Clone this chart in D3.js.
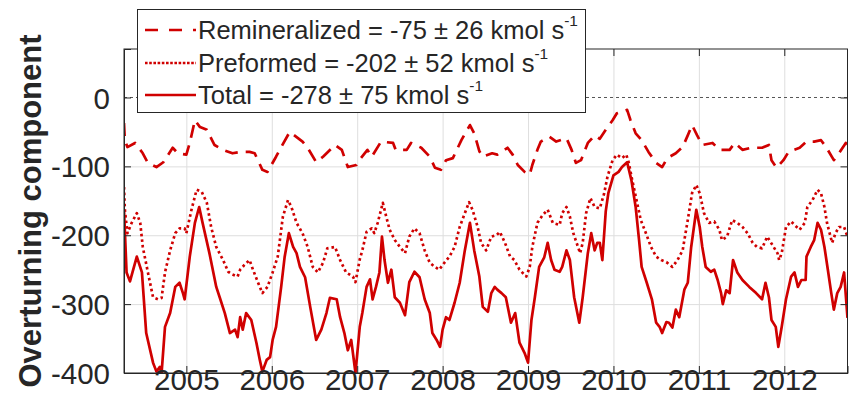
<!DOCTYPE html>
<html>
<head>
<meta charset="utf-8">
<script src="https://cdn.jsdelivr.net/npm/d3@7"></script>
<style>
  html, body { margin: 0; padding: 0; background: #fff; }
  #chart { width: 849px; height: 410px; }
  text { font-family: "Liberation Sans", Arial, Helvetica, sans-serif; fill: #262626; }
</style>
</head>
<body>
<div id="chart"></div>
<script>
// Tick values
const xTicks = [2005, 2006, 2007, 2008, 2009, 2010, 2011, 2012];
const yTicks = [-400, -300, -200, -100, 0];

// Series: [decimal year, kmol s-1]
const remineralized = [
    [2004.27,-37],[2004.28,-62],[2004.31,-72],[2004.40,-66],[2004.49,-81],[2004.55,-95],[2004.65,-101],
    [2004.73,-94],[2004.84,-73],[2004.90,-81],[2005.00,-83],[2005.04,-66],[2005.10,-33],[2005.16,-43],
    [2005.24,-47],[2005.33,-69],[2005.43,-76],[2005.54,-81],[2005.63,-79],[2005.74,-79],[2005.80,-81],
    [2005.89,-105],[2005.95,-108],[2006.05,-86],[2006.11,-72],[2006.21,-50],[2006.36,-64],[2006.42,-73],
    [2006.52,-94],[2006.60,-86],[2006.74,-69],[2006.82,-76],[2006.89,-101],[2006.99,-98],[2007.03,-90],
    [2007.12,-76],[2007.17,-86],[2007.28,-64],[2007.42,-66],[2007.45,-76],[2007.58,-76],[2007.63,-66],
    [2007.75,-73],[2007.85,-86],[2007.91,-102],[2007.98,-105],[2008.04,-91],[2008.12,-88],[2008.22,-62],
    [2008.32,-40],[2008.37,-52],[2008.43,-78],[2008.47,-86],[2008.58,-81],[2008.64,-83],[2008.76,-73],
    [2008.82,-83],[2008.88,-98],[2008.96,-108],[2009.02,-112],[2009.05,-98],[2009.11,-76],[2009.15,-64],
    [2009.25,-57],[2009.33,-64],[2009.45,-59],[2009.51,-76],[2009.56,-95],[2009.62,-91],[2009.70,-66],
    [2009.78,-55],[2009.84,-60],[2009.91,-47],[2009.99,-33],[2010.04,-23],[2010.16,-18],[2010.20,-33],
    [2010.26,-52],[2010.33,-62],[2010.41,-79],[2010.50,-95],[2010.57,-101],[2010.63,-88],[2010.73,-81],
    [2010.81,-72],[2010.87,-55],[2010.92,-40],[2010.98,-55],[2011.04,-69],[2011.16,-66],[2011.24,-76],
    [2011.36,-76],[2011.42,-66],[2011.51,-76],[2011.61,-73],[2011.74,-73],[2011.82,-69],[2011.85,-91],
    [2011.91,-102],[2011.99,-91],[2012.05,-79],[2012.18,-73],[2012.26,-64],[2012.35,-64],[2012.43,-62],
    [2012.49,-72],[2012.58,-91],[2012.64,-81],[2012.72,-66],[2012.74,-68]
];
const preformed = [
    [2004.27,-130],[2004.28,-163],[2004.31,-197],[2004.36,-182],[2004.42,-168],[2004.46,-182],[2004.49,-217],
    [2004.55,-254],[2004.61,-290],[2004.67,-293],[2004.71,-291],[2004.75,-254],[2004.81,-222],[2004.87,-197],
    [2004.92,-190],[2004.98,-190],[2005.00,-197],[2005.06,-163],[2005.12,-134],[2005.18,-137],[2005.24,-153],
    [2005.29,-188],[2005.35,-217],[2005.43,-236],[2005.49,-253],[2005.54,-257],[2005.60,-260],[2005.63,-250],
    [2005.68,-243],[2005.74,-236],[2005.78,-250],[2005.84,-269],[2005.89,-284],[2005.95,-275],[2006.01,-254],
    [2006.07,-231],[2006.13,-173],[2006.19,-149],[2006.23,-159],[2006.29,-182],[2006.36,-197],[2006.42,-217],
    [2006.48,-246],[2006.54,-254],[2006.60,-240],[2006.65,-219],[2006.74,-217],[2006.80,-236],[2006.87,-254],
    [2006.95,-260],[2006.98,-268],[2007.03,-235],[2007.06,-222],[2007.11,-195],[2007.17,-190],[2007.20,-197],
    [2007.24,-182],[2007.30,-153],[2007.34,-173],[2007.38,-192],[2007.44,-207],[2007.50,-217],[2007.56,-226],
    [2007.61,-202],[2007.67,-190],[2007.73,-197],[2007.79,-222],[2007.85,-240],[2007.91,-246],[2007.96,-250],
    [2008.02,-240],[2008.08,-231],[2008.14,-217],[2008.20,-188],[2008.26,-168],[2008.31,-152],[2008.35,-163],
    [2008.41,-188],[2008.45,-211],[2008.51,-222],[2008.57,-202],[2008.63,-200],[2008.67,-195],[2008.73,-211],
    [2008.79,-231],[2008.84,-236],[2008.90,-250],[2008.98,-260],[2009.02,-246],[2009.05,-217],[2009.11,-182],
    [2009.17,-171],[2009.23,-163],[2009.29,-182],[2009.37,-185],[2009.40,-168],[2009.45,-159],[2009.49,-173],
    [2009.53,-197],[2009.61,-226],[2009.64,-211],[2009.68,-168],[2009.73,-146],[2009.78,-159],[2009.84,-161],
    [2009.89,-140],[2009.93,-115],[2009.99,-91],[2010.04,-83],[2010.10,-88],[2010.15,-83],[2010.18,-95],
    [2010.22,-120],[2010.27,-149],[2010.32,-178],[2010.38,-197],[2010.44,-217],[2010.50,-231],[2010.56,-236],
    [2010.62,-239],[2010.69,-246],[2010.75,-236],[2010.81,-222],[2010.87,-178],[2010.92,-139],[2010.97,-127],
    [2011.01,-139],[2011.06,-168],[2011.12,-182],[2011.18,-180],[2011.24,-192],[2011.27,-207],[2011.33,-202],
    [2011.39,-178],[2011.45,-182],[2011.51,-188],[2011.57,-197],[2011.63,-211],[2011.68,-217],[2011.74,-219],
    [2011.80,-202],[2011.86,-214],[2011.92,-226],[2011.94,-236],[2011.97,-226],[2012.02,-188],[2012.08,-180],
    [2012.12,-185],[2012.18,-192],[2012.24,-182],[2012.27,-159],[2012.33,-149],[2012.39,-134],[2012.43,-139],
    [2012.47,-159],[2012.50,-182],[2012.56,-211],[2012.60,-197],[2012.64,-188],[2012.70,-188],[2012.74,-202]
];
const total = [
    [2004.27,-163],[2004.30,-254],[2004.34,-267],[2004.42,-231],[2004.48,-254],[2004.53,-342],[2004.61,-385],
    [2004.65,-398],[2004.69,-391],[2004.71,-400],[2004.75,-333],[2004.81,-313],[2004.87,-275],[2004.92,-269],
    [2004.96,-284],[2004.98,-293],[2005.04,-231],[2005.10,-182],[2005.15,-159],[2005.19,-182],[2005.27,-226],
    [2005.35,-275],[2005.39,-290],[2005.45,-313],[2005.51,-342],[2005.57,-337],[2005.60,-348],[2005.63,-319],
    [2005.66,-337],[2005.70,-313],[2005.76,-323],[2005.82,-356],[2005.86,-381],[2005.89,-398],[2005.94,-381],
    [2005.98,-377],[2006.01,-352],[2006.05,-333],[2006.11,-275],[2006.15,-232],[2006.20,-197],[2006.25,-217],
    [2006.29,-226],[2006.33,-246],[2006.39,-261],[2006.45,-304],[2006.52,-352],[2006.58,-337],[2006.64,-313],
    [2006.68,-291],[2006.76,-293],[2006.80,-319],[2006.85,-342],[2006.89,-367],[2006.93,-352],[2006.98,-400],
    [2007.03,-333],[2007.06,-313],[2007.11,-275],[2007.15,-264],[2007.18,-293],[2007.22,-275],[2007.26,-254],
    [2007.29,-202],[2007.32,-236],[2007.36,-269],[2007.40,-250],[2007.44,-290],[2007.50,-298],[2007.56,-316],
    [2007.61,-268],[2007.67,-253],[2007.73,-261],[2007.79,-293],[2007.85,-313],[2007.88,-342],[2007.93,-352],
    [2007.97,-362],[2008.00,-337],[2008.04,-319],[2008.08,-323],[2008.14,-298],[2008.20,-269],[2008.26,-222],
    [2008.32,-182],[2008.37,-222],[2008.43,-260],[2008.47,-304],[2008.53,-311],[2008.57,-284],[2008.61,-275],
    [2008.64,-279],[2008.69,-284],[2008.74,-290],[2008.80,-327],[2008.85,-313],[2008.90,-356],[2008.96,-371],
    [2009.00,-385],[2009.04,-323],[2009.08,-290],[2009.13,-246],[2009.19,-232],[2009.23,-211],[2009.27,-236],
    [2009.31,-250],[2009.37,-253],[2009.40,-246],[2009.45,-222],[2009.49,-236],[2009.54,-290],[2009.60,-327],
    [2009.64,-290],[2009.70,-226],[2009.74,-197],[2009.78,-222],[2009.81,-211],[2009.84,-211],[2009.87,-236],
    [2009.91,-165],[2009.94,-139],[2010.00,-113],[2010.06,-108],[2010.10,-101],[2010.16,-94],[2010.21,-120],
    [2010.26,-159],[2010.30,-207],[2010.33,-246],[2010.39,-269],[2010.45,-293],[2010.50,-327],[2010.54,-333],
    [2010.57,-342],[2010.62,-326],[2010.65,-327],[2010.69,-334],[2010.73,-308],[2010.77,-319],[2010.83,-279],
    [2010.87,-269],[2010.91,-217],[2010.97,-163],[2011.01,-188],[2011.04,-217],[2011.08,-246],[2011.14,-253],
    [2011.18,-250],[2011.22,-265],[2011.26,-284],[2011.28,-300],[2011.32,-280],[2011.36,-284],[2011.40,-236],
    [2011.45,-254],[2011.51,-265],[2011.59,-275],[2011.67,-284],[2011.74,-293],[2011.78,-269],[2011.82,-290],
    [2011.85,-323],[2011.90,-333],[2011.93,-362],[2011.97,-333],[2012.02,-293],[2012.08,-260],[2012.12,-254],
    [2012.16,-275],[2012.20,-265],[2012.25,-265],[2012.26,-231],[2012.31,-217],[2012.35,-207],[2012.39,-182],
    [2012.43,-192],[2012.47,-217],[2012.51,-250],[2012.55,-284],[2012.58,-308],[2012.62,-284],[2012.66,-275],
    [2012.70,-254],[2012.74,-320]
];

const legendNames = ["Remineralized", "Preformed", "Total"];
const legendMeans = [-75, -202, -278];
const legendSpreads = [26, 52, 75];

const red = "#d00000";
const axisColor = "#262626";

/**
 * Builds the svg and the plot area geometry.
 */
function initializeSVG() {
    const margin = { top: 49, right: 1.5, bottom: 37, left: 124 };
    const fullW = 849, fullH = 410;
    const width = fullW - margin.left - margin.right;
    const height = fullH - margin.top - margin.bottom;
    const root = d3.select("#chart").append("svg")
        .attr("width", fullW)
        .attr("height", fullH);
    const svg = root.append("g")
        .attr("transform", `translate(${margin.left},${margin.top})`);
    return { root, svg, width, height };
}

/**
 * x is decimal year, y is kmol s-1.
 */
function createScales(width, height) {
    const x = d3.scaleLinear().domain([2004.27, 2012.74]).range([0, width]);
    const y = d3.scaleLinear().domain([-400, 70.4]).range([height, 0]);
    return { x, y };
}

function addGridLines(svg, x, y, width, height) {
    svg.append("g")
        .attr("transform", `translate(0,${height})`)
        .call(d3.axisBottom(x).tickValues(xTicks).tickSize(-height).tickFormat(""))
        .call(g => g.select(".domain").remove())
        .call(g => g.selectAll("line").attr("stroke", "#dedede").attr("stroke-width", 1));
    svg.append("g")
        .call(d3.axisLeft(y).tickValues(yTicks.filter(v => v !== 0)).tickSize(-width).tickFormat(""))
        .call(g => g.select(".domain").remove())
        .call(g => g.selectAll("line").attr("stroke", "#dedede").attr("stroke-width", 1));
    // zero reference line
    svg.append("line")
        .attr("x1", 0).attr("x2", width)
        .attr("y1", y(0)).attr("y2", y(0))
        .attr("stroke", "#555")
        .attr("stroke-width", 1)
        .attr("stroke-dasharray", "3,3");
}

function drawLines(svg, x, y, width, height) {
    svg.append("clipPath").attr("id", "plotclip")
        .append("rect").attr("x", 0).attr("y", 0).attr("width", width).attr("height", height);
    const line = d3.line().x(d => x(d[0])).y(d => y(d[1]));
    const series = [
        { data: remineralized, dash: "13,8" },
        { data: preformed, dash: "2.6,3" },
        { data: total, dash: null }
    ];
    series.forEach(s => {
        svg.append("path")
            .datum(s.data)
            .attr("clip-path", "url(#plotclip)")
            .attr("fill", "none")
            .attr("stroke", red)
            .attr("stroke-width", 2.7)
            .attr("stroke-linejoin", "round")
            .attr("stroke-dasharray", s.dash)
            .attr("d", line);
    });
}

/**
 * Box-style axes with inward ticks, like MATLAB.
 */
function appendAxes(svg, x, y, width, height) {
    const tick = 7;
    const fmt = d => String(d);
    const axes = svg.append("g");
    const bottom = axes.append("g")
        .attr("transform", `translate(0,${height})`)
        .call(d3.axisBottom(x).tickValues(xTicks).tickSize(-tick).tickPadding(-4).tickFormat(fmt));
    bottom.selectAll("text").attr("font-size", 29.5).attr("fill", axisColor);
    const left = axes.append("g")
        .call(d3.axisLeft(y).tickValues(yTicks).tickSize(-tick).tickPadding(14).tickFormat(fmt));
    left.selectAll("text").attr("font-size", 29.5).attr("fill", axisColor).attr("dy", "0.36em");
    // right and top ticks
    axes.append("g")
        .attr("transform", `translate(${width},0)`)
        .call(d3.axisRight(y).tickValues(yTicks).tickSize(-tick).tickFormat(""))
        .call(g => g.select(".domain").remove());
    axes.append("g")
        .call(d3.axisTop(x).tickValues(xTicks).tickSize(-tick).tickFormat(""))
        .call(g => g.select(".domain").remove());
    axes.selectAll(".domain, .tick line").attr("stroke", axisColor).attr("stroke-width", 1);
    axes.append("rect")
        .attr("x", 0).attr("y", 0).attr("width", width).attr("height", height)
        .attr("fill", "none").attr("stroke", axisColor).attr("stroke-width", 1);

    axes.append("text")
        .attr("transform", `translate(${41 - 124},${211 - 49}) rotate(-90)`)
        .attr("text-anchor", "middle")
        .attr("font-size", 31)
        .attr("font-weight", "bold")
        .attr("fill", axisColor)
        .text("Overturning component");
}

function drawLegend(root) {
    const lg = root.append("g");
    lg.append("rect")
        .attr("x", 137.5).attr("y", 9.5).attr("width", 448).attr("height", 103)
        .attr("fill", "#fff").attr("stroke", axisColor).attr("stroke-width", 1);
    const dashes = ["13,11", "2.6,1.6", null];
    const rowY = [30, 63, 95];
    legendNames.forEach((name, i) => {
        lg.append("line")
            .attr("x1", 145).attr("x2", 196)
            .attr("y1", rowY[i]).attr("y2", rowY[i])
            .attr("stroke", red).attr("stroke-width", 2.7)
            .attr("stroke-dasharray", dashes[i]);
        const t = lg.append("text")
            .attr("x", 198).attr("y", rowY[i] + 9)
            .attr("font-size", 25.5)
            .attr("fill", axisColor);
        t.append("tspan").text(`${name} = ${legendMeans[i]} \u00b1 ${legendSpreads[i]} kmol s`);
        t.append("tspan").attr("dy", -13).attr("font-size", 15.5).text("-1");
    });
}

function addChart() {
    const { root, svg, width, height } = initializeSVG();
    const { x, y } = createScales(width, height);
    addGridLines(svg, x, y, width, height);
    drawLines(svg, x, y, width, height);
    appendAxes(svg, x, y, width, height);
    drawLegend(root);
}

addChart();
</script>
</body>
</html>
